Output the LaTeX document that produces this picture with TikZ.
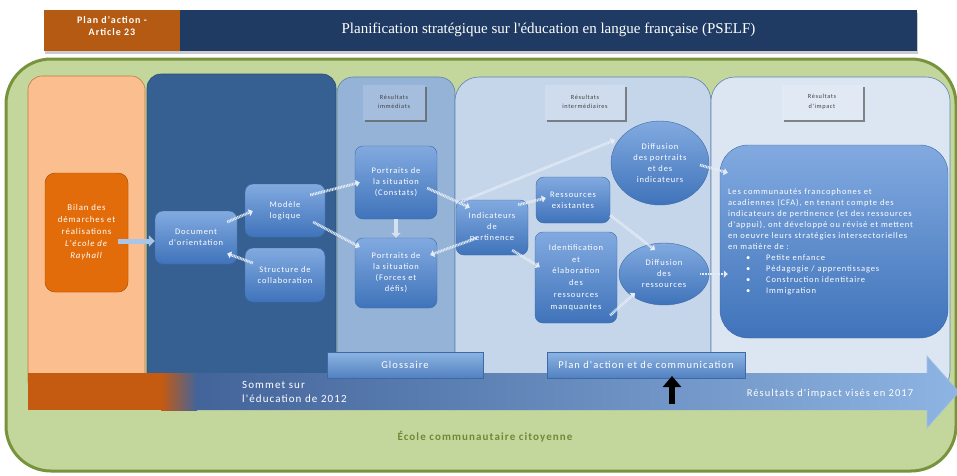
\documentclass[tikz,border=0pt]{standalone}
\usepackage{fontspec}
\setmainfont{Carlito}
\newfontfamily\lsfont[LetterSpace=10]{Carlito}
\newfontfamily\titlefont{Liberation Serif}
\usetikzlibrary{shapes.geometric,arrows.meta,shadows,calc}

\definecolor{hdrorange}{HTML}{B45A12}
\definecolor{hdrnavy}{HTML}{1F3B63}
\definecolor{bggreen}{HTML}{C3D69B}
\definecolor{bggreenline}{HTML}{77933C}
\definecolor{colorange}{HTML}{FBBF8F}
\definecolor{colorangeline}{HTML}{C07A40}
\definecolor{coldark}{HTML}{376092}
\definecolor{colmid}{HTML}{95B3D7}
\definecolor{collight}{HTML}{C6D6EA}
\definecolor{colpale}{HTML}{DCE6F2}
\definecolor{collineblue}{HTML}{5F83B2}
\definecolor{nodetop}{HTML}{82AAE0}
\definecolor{nodebot}{HTML}{3F73BA}
\definecolor{nodeline}{HTML}{3A6AA8}
\definecolor{bilanfill}{HTML}{E36C0A}
\definecolor{bilanline}{HTML}{A64F08}
\definecolor{barorange}{HTML}{C55A11}
\definecolor{barblue}{HTML}{43649A}
\definecolor{barlight}{HTML}{8DB4E2}
\definecolor{ecotext}{HTML}{6E8A38}
\definecolor{labeltext}{HTML}{404040}
\definecolor{linkcol}{HTML}{E4ECF7}
\definecolor{blockcol}{HTML}{A9C6E8}

\begin{document}
\begin{tikzpicture}[x=1pt,y=-1pt,
  box/.style={rounded corners=8pt, top color=nodetop, bottom color=nodebot, draw=nodeline, line width=0.4pt,
    text=white, font=\lsfont\fontsize{8.5}{11}\selectfont, align=center, inner sep=1pt},
  oval/.style={ellipse, top color=nodetop, bottom color=nodebot, draw=nodeline, line width=0.4pt,
    text=white, font=\lsfont\fontsize{8.5}{11}\selectfont, align=center, inner sep=0pt},
  link/.style={draw=linkcol, line width=2.8pt, dash pattern=on 0.9pt off 0.7pt,
    -{Triangle[length=4pt,width=7pt]}},
  blockarrow/.style={draw=blockcol, line width=5pt, -{Triangle[length=6pt,width=11pt]}},
  hollowarrow/.style={draw=linkcol!80!colmid, line width=3.5pt, -{Triangle[length=5pt,width=9pt]}},
  collabel/.style={text=labeltext, font=\lsfont\fontsize{6.3}{9.5}\selectfont, align=center,
    minimum height=35, drop shadow={shadow xshift=2pt, shadow yshift=-2.5pt, fill=black!65, opacity=0.7}},
  barbox/.style={top color=barlight, bottom color=nodebot!90!white, draw=nodeline, line width=0.4pt,
    text=white, font=\lsfont\fontsize{10.5}{12}\selectfont, minimum height=26},
]
\useasboundingbox (0,0) rectangle (957,475);
\fill[white] (0,0) rectangle (957,475);

% header
\node[fill=hdrorange, minimum width=136, minimum height=41, text=white, align=center,
  font=\lsfont\bfseries\fontsize{10}{12}\selectfont, inner sep=0pt,
  drop shadow={shadow xshift=1pt, shadow yshift=-3pt, fill=black!40, opacity=0.5}] (hdra) at (112,30.5) {Plan d'action -\\ Article 23\\[-3pt]\mbox{}};
\node[fill=hdrnavy, minimum width=737, minimum height=41, text=white, inner sep=0pt,
  font=\titlefont\fontsize{15}{17}\selectfont,
  drop shadow={shadow xshift=1pt, shadow yshift=-3pt, fill=black!40, opacity=0.5}] (hdrb) at (548.5,30.5) {\smash{\raisebox{-3pt}{Planification stratégique sur l'éducation en langue française (PSELF)}}};

% green background
\draw[fill=bggreen, draw=bggreenline, line width=3pt, rounded corners=45pt] (6,59) rectangle (956,471);

% columns
\draw[fill=colorange, draw=colorangeline, line width=0.6pt, rounded corners=14pt] (28,76) rectangle (145,395);
\draw[fill=coldark, draw=coldark!80!black, line width=0.6pt, rounded corners=14pt] (147,74) rectangle (336,395);
\draw[fill=colmid, draw=collineblue, line width=0.6pt, rounded corners=16pt] (337,77) rectangle (455,395);
\draw[fill=collight, draw=collineblue, line width=0.6pt, rounded corners=24pt] (455,77) rectangle (711,395);
\draw[fill=colpale, draw=collineblue, line width=0.6pt, rounded corners=24pt] (711,77) rectangle (950,395);

% column labels
\node[collabel, fill=colmid!85!white, minimum width=62] (lab1) at (394,102) {Résultats\\ immédiats};
\node[collabel, fill=collight!85!white, minimum width=80] (lab2) at (585,102) {Résultats\\ intermédiaires};
\node[collabel, fill=colpale!85!white, minimum width=81] (lab3) at (822,102) {Résultats\\ d'impact};

% nodes
\node[box, fill=bilanfill, top color=bilanfill, bottom color=bilanfill, draw=bilanline, rounded corners=10pt,
  minimum width=83, minimum height=119, font=\lsfont\fontsize{8.8}{12}\selectfont] (bilan) at (86.5,232.5)
  {Bilan des\\ démarches et\\ réalisations\\ \textit{L'école de}\\ \textit{Rayhall}};
\node[box, minimum width=82, minimum height=53] (doc) at (196,237.5) {Document\\ d'orientation};
\node[box, minimum width=80, minimum height=53] (modele) at (285,210.5) {Modèle\\ logique};
\node[box, minimum width=80, minimum height=54] (struct) at (285,275) {Structure de\\ collaboration};
\node[box, minimum width=82, minimum height=73] (pc) at (396,182.5) {Portraits de\\ la situation\\ (Constats)};
\node[box, minimum width=82, minimum height=70] (pf) at (396,273) {Portraits de\\ la situation\\ (Forces et\\ défis)};
\node[box, minimum width=72, minimum height=55] (ind) at (492,227.5) {Indicateurs\\ de\\ pertinence};
\node[box, minimum width=74, minimum height=46] (rex) at (573,200) {Ressources\\ existantes};
\node[box, minimum width=82, minimum height=91, font=\lsfont\fontsize{8.5}{11.7}\selectfont] (idm) at (576,277.5) {Identification\\ et\\ élaboration\\ des\\ ressources\\ manquantes};
\node[oval, minimum width=98, minimum height=84] (dp) at (660,163) {Diffusion\\ des portraits\\ et des\\ indicateurs};
\node[oval, minimum width=90, minimum height=62] (dr) at (664,274) {Diffusion\\ des\\ ressources};
\node[box, rounded corners=28pt, minimum width=228, minimum height=193, text width=212, align=left,
  inner sep=0pt] (imp) at (834,241.5)
  {\mbox{}\\[-4pt]
   Les communautés francophones et\\
   acadiennes (CFA), en tenant compte des\\
   indicateurs de pertinence (et des ressources\\
   d'appui), ont développé ou révisé et mettent\\
   en oeuvre leurs stratégies intersectorielles\\
   en matière de :\\
   \hspace*{18pt}\textbullet\hspace{16pt}Petite enfance\\
   \hspace*{18pt}\textbullet\hspace{16pt}Pédagogie / apprentissages\\
   \hspace*{18pt}\textbullet\hspace{16pt}Construction identitaire\\
   \hspace*{18pt}\textbullet\hspace{16pt}Immigration};

% connectors
\draw[blockarrow] ($(bilan.east)+(-10,8.5)$) -- ($(doc.west)+(0,3.5)$);
\draw[link] ($(doc.east)+(-10,-15.5)$) -- ($(modele.west)+(8,0.5)$);
\draw[link] ($(struct.west)+(8,-12)$) -- ($(doc.east)+(-10,16)$);
\draw[link] ($(modele.east)+(-15,-15.5)$) -- ($(pc.west)+(5,0)$);
\draw[link] ($(modele.east)+(-12,11.5)$) -- ($(pf.west)+(5,-26)$);
\draw[hollowarrow] (pc.south) -- (pf.north);
\draw[link] ($(pc.east)+(-10,5.5)$) -- ($(ind.west)+(14,-20)$);
\draw[link] ($(ind.west)+(21,10.5)$) -- ($(pf.east)+(-7,-18)$);
\draw[link] ($(ind.north west)+(5,2)$) -- ($(dp.center)+(-45,-23)$);
\draw[link] ($(ind.north east)+(-10,5)$) -- ($(rex.west)+(10,-2)$);
\draw[link] ($(ind.south east)+(-16,-5)$) -- ($(idm.west)+(5,-10.5)$);
\draw[link] ($(rex.south east)+(0,-8)$) -- ($(dr.center)+(-9,-24)$);
\draw[link] ($(idm.south east)+(-7,-8)$) -- ($(dr.center)+(-29,19)$);
\draw[link] ($(dp.center)+(40,2)$) -- ($(imp.north west)+(8,28)$);
\draw[link] ($(dr.center)+(36,0)$) -- ($(imp.west)+(8,32.5)$);

% timeline bar
\fill[barorange] (28,373) rectangle (162,410);
\shade[left color=barorange, right color=barblue] (161,373) rectangle (197,410);
\shade[left color=barblue, middle color=barblue!85!barlight, right color=barlight]
  (196,373) -- (927,373) -- (927,356) -- (959,392) -- (927,428) -- (927,410) -- (196,410) -- cycle;
\draw[draw=barlight!80!white, line width=0.6pt] (927,373) -- (927,356) -- (959,392) -- (927,428) -- (927,410);

\node[barbox, minimum width=156] (gloss) at (405,365) {Glossaire};
\node[barbox, minimum width=198] (plan) at (646,365) {Plan d'action et de communication};

\coordinate (ba1) at (672,404);
\coordinate (ba2) at (672,376);
\draw[black, line width=5.5pt, -{Triangle[length=11pt,width=18pt]}] (ba1) -- (ba2);

\node[text=white, align=left, anchor=west, font=\lsfont\fontsize{11}{14}\selectfont, inner sep=0pt] (sommet) at (242,392)
  {Sommet sur\\ l'éducation de 2012};
\node[text=white, font=\lsfont\fontsize{10.5}{12}\selectfont, inner sep=0pt] (vises) at (830,394)
  {Résultats d'impact visés en 2017};
\node[text=ecotext, font=\lsfont\bfseries\fontsize{11}{13}\selectfont, inner sep=0pt] (eco) at (485,437)
  {École communautaire citoyenne};
\end{tikzpicture}
\end{document}
